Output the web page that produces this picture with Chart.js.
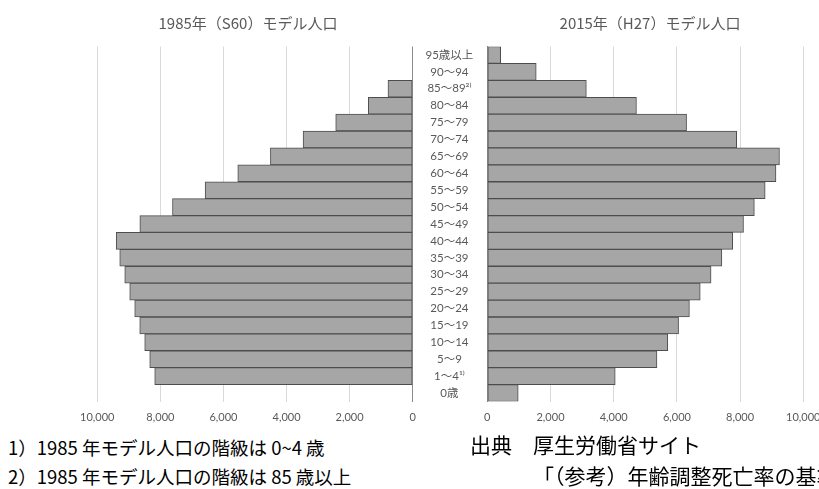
<!DOCTYPE html>
<html lang="ja">
<head>
<meta charset="utf-8">
<title>モデル人口</title>
<script src="https://cdn.jsdelivr.net/npm/chart.js@4.4.0/dist/chart.umd.min.js"></script>
<style>
    html, body { margin: 0; padding: 0; background: #fff; width: 819px; height: 489px; overflow: hidden; }
    #wrap { position: relative; width: 819px; height: 489px; }
    .box { position: absolute; top: 0; height: 432px; }
    #leftBox { left: 0; width: 430px; }
    #rightBox { left: 413px; width: 420px; }
    .title { position: absolute; top: 12px; font-family: 'Noto Sans CJK JP', sans-serif; font-size: 15px; color: #595959; white-space: nowrap; transform: translateX(-50%); }
    .note { position: absolute; font-family: 'Noto Sans CJK JP', sans-serif; color: #000; white-space: nowrap; line-height: 1.2; }
    .fn { left: 8px; font-size: 18.5px; }
    .src { font-size: 21px; }
</style>
</head>
<body>
<div id="wrap">
    <div class="box" id="leftBox"><canvas id="chart1985"></canvas></div>
    <div class="box" id="rightBox"><canvas id="chart2015"></canvas></div>
    <div class="title" style="left:248px">1985年（S60）モデル人口</div>
    <div class="title" style="left:650px">2015年（H27）モデル人口</div>
    <div class="note fn" style="top:436px">1）1985 年モデル人口の階級は 0~4 歳</div>
    <div class="note fn" style="top:465px">2）1985 年モデル人口の階級は 85 歳以上</div>
    <div class="note src" style="left:470px; top:432px">出典　厚生労働省サイト</div>
    <div class="note src" style="left:533px; top:463px">「（参考）年齢調整死亡率の基準人口について」</div>
</div>
<script>
// age groups, top to bottom
var ageGroups = ['95歳以上', '90～94', '85～89\u00b2\u207e', '80～84', '75～79', '70～74', '65～69',
    '60～64', '55～59', '50～54', '45～49', '40～44', '35～39', '30～34', '25～29',
    '20～24', '15～19', '10～14', '5～9', '1～4\u00b9\u207e', '0歳'];

// model population (thousands)
var pop1985 = [null, null, 784, 1406, 2441, 3476, 4511, 5546, 6581, 7616, 8651, 9400,
    9289, 9130, 8972, 8814, 8655, 8497, 8338, 8180, null];
var pop2015 = [423, 1548, 3134, 4720, 6306, 7892, 9246, 9135, 8793, 8451, 8108, 7766,
    7423, 7081, 6738, 6396, 6053, 5711, 5369, 4048, 978];

var axisMax = 10000;
var axisStep = 2000;

var labelFont = "Lato, 'Noto Sans CJK JP', sans-serif";
var barFill = '#a6a6a6';
var barBorder = '#4d4d4d';

function gridColor(ctx) {
    return ctx.tick && ctx.tick.value === 0 ? '#8c8c8c' : '#d9d9d9';
}

function valueAxis(reverse) {
    return {
        reverse: reverse,
        min: 0,
        max: axisMax,
        ticks: {
            stepSize: axisStep,
            padding: 9,
            color: '#595959',
            font: { family: labelFont, size: 11 },
            callback: function (v) { return Number(v).toLocaleString('en-US'); }
        },
        grid: { color: gridColor, drawTicks: false, tickLength: 0 },
        border: { display: false },
        afterFit: function (scale) { scale.height = 30.5; }
    };
}

function barDataset(values) {
    return {
        data: values,
        backgroundColor: barFill,
        borderColor: barBorder,
        borderWidth: 1,
        borderSkipped: false,
        categoryPercentage: 1,
        barPercentage: 1
    };
}

var common = {
    indexAxis: 'y',
    responsive: true,
    maintainAspectRatio: false,
    animation: false,
    plugins: { legend: { display: false }, tooltip: { enabled: false } }
};

// 1985 (left, mirrored)
new Chart(document.getElementById('chart1985'), {
    type: 'bar',
    data: { labels: ageGroups, datasets: [barDataset(pop1985)] },
    options: Object.assign({}, common, {
        layout: { padding: { left: 97.3, right: 17.3, top: 46.5, bottom: 0 } },
        scales: {
            x: valueAxis(true),
            y: { display: false }
        }
    })
});

// 2015 (right, with age labels)
new Chart(document.getElementById('chart2015'), {
    type: 'bar',
    data: { labels: ageGroups, datasets: [barDataset(pop2015)] },
    options: Object.assign({}, common, {
        layout: { padding: { left: 0, right: 29.7, top: 46.5, bottom: 0 } },
        scales: {
            x: valueAxis(false),
            y: {
                position: 'left',
                grid: { display: false, drawTicks: false, tickLength: 0 },
                border: { display: true, color: '#8c8c8c' },
                ticks: {
                    crossAlign: 'center',
                    padding: 14,
                    autoSkip: false,
                    color: '#595959',
                    font: { family: labelFont, size: 11.5 }
                },
                afterFit: function (scale) { scale.width = 74.3; }
            }
        }
    })
});
</script>
</body>
</html>
